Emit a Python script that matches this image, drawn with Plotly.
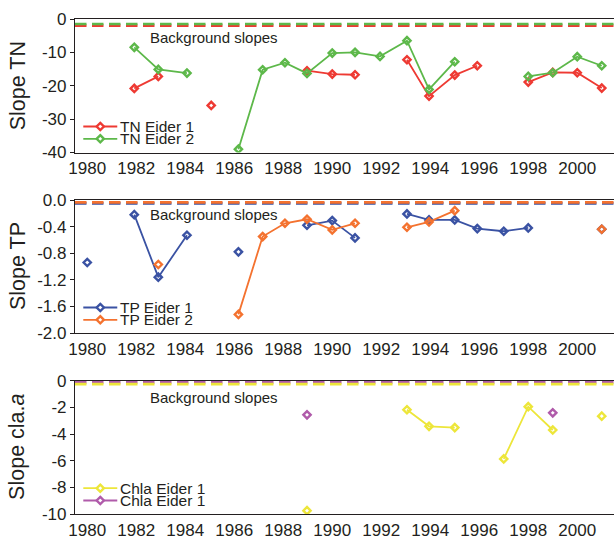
import plotly.graph_objects as go

# ---------------- data ----------------
YEARS = list(range(1980, 2002))
# sampling positions (fractional year) for each year
X_POS = [1980.0, 1981.0, 1981.92, 1982.9, 1984.07, 1985.06, 1986.17, 1987.16,
         1988.07, 1988.97, 1990.0, 1990.93, 1991.95, 1993.05, 1993.95, 1995.0,
         1995.92, 1997.0, 1998.0, 1999.0, 2000.0, 2001.0]

TN_EIDER1 = [None, None, -20.8, -17.2, None, -25.9, None, None, None, -15.5, -16.5,
             -16.7, None, -12.2, -23.1, -16.8, -14.0, None, -18.9, -16.0, -16.1, -20.7]
TN_EIDER2 = [None, None, -8.5, -15.1, -16.2, None, -39.0, -15.2, -13.1, -16.3, -10.2,
             -10.0, -11.2, -6.5, -21.1, -12.8, None, None, -17.2, -16.1, -11.3, -14.0]

TP_EIDER1 = [-0.94, None, -0.22, -1.16, -0.53, None, -0.78, None, None, -0.38, -0.31,
             -0.57, None, -0.21, -0.30, -0.30, -0.43, -0.47, -0.42, None, None, -0.44]
TP_EIDER2 = [None, None, None, -0.97, None, None, -1.72, -0.55, -0.35, -0.29, -0.45,
             -0.35, None, -0.41, -0.33, -0.16, None, None, None, None, None, -0.44]

CHLA_EIDER1_A = [None, None, None, None, None, None, None, None, None, -9.75, None,
                 None, None, -2.18, -3.42, -3.52, None, -5.87, -1.95, -3.70, None, -2.66]
CHLA_EIDER1_B = [None, None, None, None, None, None, None, None, None, -2.56, None,
                 None, None, None, None, None, None, None, None, -2.41, None, None]

# background slopes (Eider 1, Eider 2)
BG_TN = [-2.0, -1.5]
BG_TP = [-0.052, -0.035]
BG_CHLA = [-0.26, -0.13]

X_LABEL_VALS = list(range(1980, 2001, 2))
X_LABEL_TEXT = [str(v) for v in X_LABEL_VALS]

TN_TICKS = [0, -10, -20, -30, -40]
TN_TICK_TEXT = ["0", "-10", "-20", "-30", "-40"]
TP_TICKS = [0.0, -0.4, -0.8, -1.2, -1.6, -2.0]
TP_TICK_TEXT = ["0.0", "-0.4", "-0.8", "-1.2", "-1.6", "-2.0"]
CHLA_TICKS = [0, -2, -4, -6, -8, -10]
CHLA_TICK_TEXT = ["0", "-2", "-4", "-6", "-8", "-10"]

TITLES = ["Slope TN", "Slope TP", "Slope cla.<i>a</i>"]
LEGENDS = [["TN Eider 1", "TN Eider 2"], ["TP Eider 1", "TP Eider 2"],
           ["Chla Eider 1", "Chla Eider 1"]]

# ---------------- style ----------------
FONT = "Liberation Sans, Arial, Helvetica, sans-serif"
INK = "#231F20"
RED = "#EE3A33"
GREEN = "#5DB84A"
BLUE = "#3A52A3"
ORANGE = "#F4722F"
YELLOW = "#EDE63A"
PURPLE = "#B05BAA"

fig = go.Figure()

def add_series(xs, ys, color, xa, ya):
    fig.add_trace(go.Scatter(
        x=xs, y=ys, mode="lines+markers", xaxis=xa, yaxis=ya,
        connectgaps=False, showlegend=False,
        line=dict(color=color, width=1.8),
        marker=dict(symbol="diamond-open", size=5.6, color=color,
                    line=dict(color=color, width=2.4)),
        hoverinfo="skip"))

add_series(X_POS, TN_EIDER1, RED, "x", "y")
add_series(X_POS, TN_EIDER2, GREEN, "x", "y")
add_series(X_POS, TP_EIDER1, BLUE, "x2", "y2")
add_series(X_POS, TP_EIDER2, ORANGE, "x2", "y2")
add_series(X_POS, CHLA_EIDER1_A, YELLOW, "x3", "y3")
add_series(X_POS, CHLA_EIDER1_B, PURPLE, "x3", "y3")

W, H = 614, 539
ML, MR, MT, MB = 74.5, 0, 19, 25
PH = H - MT - MB
PW = W - ML - MR
panel_px = [(19, 152.5), (200, 333), (380.7, 514)]
domains = [[(H - MB - b) / PH, (H - MB - t) / PH] for t, b in panel_px]

X_RANGE = [1979.5, 2001.5]
bounds = [y + 0.5 for y in YEARS[:-1]]

def xaxis_def(anchor):
    return dict(domain=[0, 1], range=X_RANGE, anchor=anchor,
                tickmode="array", tickvals=X_LABEL_VALS, ticktext=X_LABEL_TEXT,
                ticks="", showgrid=False, zeroline=False, showline=True, mirror=True,
                linecolor=INK, linewidth=1.2, ticklabelstandoff=0,
                tickfont=dict(family=FONT, size=17, color=INK))

def xtick_axis(overlay, anchor):
    # tick marks at the year boundaries (no labels)
    return dict(domain=[0, 1], range=X_RANGE, anchor=anchor, overlaying=overlay,
                side="bottom", tickmode="array", tickvals=bounds,
                ticktext=[""] * len(bounds), showticklabels=False,
                ticks="outside", ticklen=4, tickwidth=1, tickcolor=INK,
                showgrid=False, zeroline=False, showline=False)

def yaxis_def(anchor, dom, rng, tv, tt):
    return dict(domain=dom, range=rng, anchor=anchor, tickmode="array",
                tickvals=tv, ticktext=tt, ticks="outside", ticklen=4, tickwidth=1,
                tickcolor=INK, showgrid=False, zeroline=False, showline=True,
                linecolor=INK, linewidth=1.2,
                tickfont=dict(family=FONT, size=17, color=INK))

shapes = []
annotations = []

panel_specs = [
    ("x", "y", BG_TN, [RED, GREEN], [0, 1]),
    ("x2", "y2", BG_TP, [BLUE, ORANGE], [0, 1]),
    ("x3", "y3", BG_CHLA, [YELLOW, PURPLE], [1, 0]),
]
legend_colors = [[RED, GREEN], [BLUE, ORANGE], [YELLOW, PURPLE]]

for i, (xa, ya, bg, cols, order) in enumerate(panel_specs):
    for j in order:
        shapes.append(dict(type="line", xref=f"{xa} domain", yref=ya,
                           x0=0, x1=1, y0=bg[j], y1=bg[j],
                           line=dict(color=cols[j], width=2.7, dash="11.5px,5.5px")))
    ph = panel_px[i][1] - panel_px[i][0]
    bg_y = [18.9, 14.5, 16.9][i]
    annotations.append(dict(text="Background slopes", xref=f"{xa} domain",
                            yref=f"{ya} domain", x=(147.6 - ML) / PW,
                            y=1 - bg_y / ph, xanchor="left", yanchor="middle",
                            showarrow=False, font=dict(family=FONT, size=15, color=INK)))
    # axis title
    annotations.append(dict(text=TITLES[i], xref="paper", yref=f"{ya} domain",
                            x=(17 - ML) / PW, y=0.5, textangle=-90,
                            xanchor="center", yanchor="middle", showarrow=False,
                            font=dict(family=FONT, size=21.5, color=INK)))
    # legend
    for k in range(2):
        yrow = 1 - (107.5 + 12.3 * k) / ph
        c = legend_colors[i][k]
        shapes.append(dict(type="line", xref=f"{xa} domain", yref=f"{ya} domain",
                           x0=(82.8 - ML) / PW, x1=(116.8 - ML) / PW, y0=yrow, y1=yrow,
                           line=dict(color=c, width=1.8)))
        shapes.append(dict(type="path", xref=f"{xa} domain", yref=f"{ya} domain",
                           xsizemode="pixel", ysizemode="pixel",
                           xanchor=(99.8 - ML) / PW, yanchor=yrow,
                           path="M 0 3.6 L 3.6 0 L 0 -3.6 L -3.6 0 Z",
                           fillcolor="white", line=dict(color=c, width=2.4)))
        annotations.append(dict(text=LEGENDS[i][k], xref=f"{xa} domain",
                                yref=f"{ya} domain", x=(117.5 - ML) / PW, y=yrow,
                                xanchor="left", yanchor="middle", showarrow=False,
                                font=dict(family=FONT, size=15.5, color=INK)))

fig.update_layout(
    width=W, height=H, margin=dict(l=ML, r=MR, t=MT, b=MB, pad=0),
    paper_bgcolor="white", plot_bgcolor="white", showlegend=False,
    xaxis=xaxis_def("y"), xaxis2=xaxis_def("y2"), xaxis3=xaxis_def("y3"),
    xaxis4=xtick_axis("x", "y"), xaxis5=xtick_axis("x2", "y2"),
    xaxis6=xtick_axis("x3", "y3"),
    yaxis=yaxis_def("x", domains[0], [-40, 0], TN_TICKS, TN_TICK_TEXT),
    yaxis2=yaxis_def("x2", domains[1], [-2.0, 0], TP_TICKS, TP_TICK_TEXT),
    yaxis3=yaxis_def("x3", domains[2], [-10, 0], CHLA_TICKS, CHLA_TICK_TEXT),
    shapes=shapes, annotations=annotations,
)

fig.write_html("out.html")
